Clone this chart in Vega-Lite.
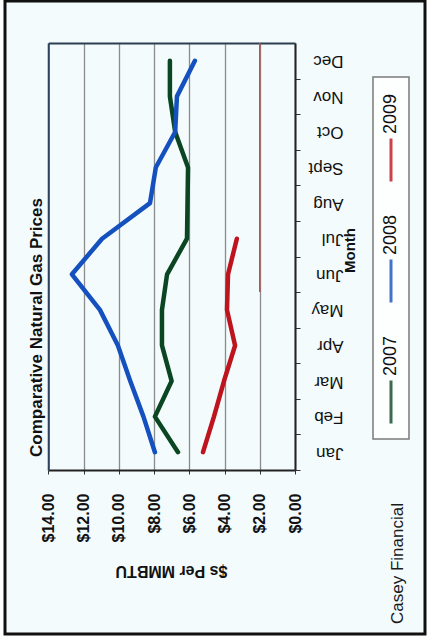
{
  "$schema": "https://vega.github.io/schema/vega-lite/v6.json",
  "autosize": {"type": "none"},
  "padding": {"left": 5, "top": 1, "right": 2, "bottom": 4},
  "width": 420,
  "height": 633,
  "background": "#ffffff",
  "view": {"fill": "#f3fbfd", "stroke": "#111111", "strokeWidth": 3},
  "config": {"font": "Liberation Sans"},
  "title": {
    "text": "Comparative Natural Gas Prices",
    "orient": "left",
    "anchor": "middle",
    "frame": "group",
    "angle": 270,
    "baseline": "middle",
    "offset": -49,
    "dx": -10,
    "fontSize": 17,
    "fontWeight": "bold",
    "color": "#111111"
  },
  "resolve": {"axis": {"x": "independent", "y": "independent"}},
  "layer": [
    {
      "data": {"values": [{"price": 2, "from": "Dec", "to": "May"}]},
      "mark": {"type": "rule", "color": "#c0504d", "strokeWidth": 1.5},
      "encoding": {
        "x": {
          "field": "price", "type": "quantitative",
          "scale": {"domain": [0, 14], "range": [290, 43.3], "nice": false, "zero": false},
          "axis": {"orient": "top", "offset": -42, "values": [0,2,4,6,8,10,12,14], "domain": true, "domainColor": "#2d3e50", "domainWidth": 2, "ticks": false, "labels": false,
            "grid": true, "gridColor": "#8c8c8c", "gridWidth": 1.3, "title": null}
        },
        "y": {
          "field": "from", "type": "ordinal", "bandPosition": 0,
          "scale": {"type": "band", "domain": ["Jan","Feb","Mar","Apr","May","Jun","Jul","Aug","Sept","Oct","Nov","Dec"], "range": [469, 42], "paddingInner": 0, "paddingOuter": 0},
          "axis": {"orient": "left", "offset": -43.3, "domain": true, "domainColor": "#2d4060", "domainWidth": 2, "ticks": false, "labels": false, "grid": false,
            "title": "Casey Financial", "titleX": 348.7, "titleY": 562, "titleAngle": 270, "titleAlign": "center", "titleBaseline": "middle", "titleFontSize": 17, "titleFontWeight": "normal", "titleColor": "#1a1a1a"}
        },
        "y2": {"field": "to", "bandPosition": 0}
      }
    },
    {
      "data": {"values": [
        {"year": "2007", "month": "Jan", "i": 1, "price": 6.64},
        {"year": "2007", "month": "Feb", "i": 2, "price": 7.95},
        {"year": "2007", "month": "Mar", "i": 3, "price": 7.0},
        {"year": "2007", "month": "Apr", "i": 4, "price": 7.55},
        {"year": "2007", "month": "May", "i": 5, "price": 7.55},
        {"year": "2007", "month": "Jun", "i": 6, "price": 7.26},
        {"year": "2007", "month": "Jul", "i": 7, "price": 6.13},
        {"year": "2007", "month": "Aug", "i": 8, "price": 6.1},
        {"year": "2007", "month": "Sept", "i": 9, "price": 6.07},
        {"year": "2007", "month": "Oct", "i": 10, "price": 6.8},
        {"year": "2007", "month": "Nov", "i": 11, "price": 7.1},
        {"year": "2007", "month": "Dec", "i": 12, "price": 7.1},
        {"year": "2008", "month": "Jan", "i": 1, "price": 7.95},
        {"year": "2008", "month": "Feb", "i": 2, "price": 8.6},
        {"year": "2008", "month": "Mar", "i": 3, "price": 9.35},
        {"year": "2008", "month": "Apr", "i": 4, "price": 10.05},
        {"year": "2008", "month": "May", "i": 5, "price": 11.07},
        {"year": "2008", "month": "Jun", "i": 6, "price": 12.66},
        {"year": "2008", "month": "Jul", "i": 7, "price": 10.95},
        {"year": "2008", "month": "Aug", "i": 8, "price": 8.23},
        {"year": "2008", "month": "Sept", "i": 9, "price": 7.9},
        {"year": "2008", "month": "Oct", "i": 10, "price": 6.8},
        {"year": "2008", "month": "Nov", "i": 11, "price": 6.7},
        {"year": "2008", "month": "Dec", "i": 12, "price": 5.68},
        {"year": "2009", "month": "Jan", "i": 1, "price": 5.22},
        {"year": "2009", "month": "Feb", "i": 2, "price": 4.6},
        {"year": "2009", "month": "Mar", "i": 3, "price": 4.03},
        {"year": "2009", "month": "Apr", "i": 4, "price": 3.4},
        {"year": "2009", "month": "May", "i": 5, "price": 3.86},
        {"year": "2009", "month": "Jun", "i": 6, "price": 3.8},
        {"year": "2009", "month": "Jul", "i": 7, "price": 3.3}
      ]},
      "mark": {"type": "line", "strokeWidth": 4.5, "strokeCap": "round", "strokeJoin": "round"},
      "encoding": {
        "x": {
          "field": "price", "type": "quantitative",
          "scale": {"domain": [0, 14], "range": [290, 43.3], "nice": false, "zero": false},
          "axis": {"orient": "bottom", "offset": -164, "values": [0,2,4,6,8,10,12,14], "format": "$.2f",
            "labelAngle": 270, "labelAlign": "right", "labelBaseline": "middle", "labelPadding": 19, "labelFontSize": 16, "labelFontWeight": "bold", "labelColor": "#111111", "labelFlush": false, "labelOverlap": false,
            "tickSize": 4, "tickColor": "#333333", "domainColor": "#222222", "domainWidth": 2,
            "grid": false,
            "title": "$s Per MMBTU", "titleX": 166, "titleY": 100, "titleAngle": 180, "titleAlign": "center", "titleBaseline": "middle", "titleFontSize": 16, "titleFontWeight": "bold", "titleColor": "#111111"}
        },
        "y": {
          "field": "month", "type": "ordinal",
          "scale": {"type": "band", "domain": ["Jan","Feb","Mar","Apr","May","Jun","Jul","Aug","Sept","Oct","Nov","Dec"], "range": [469, 42], "paddingInner": 0, "paddingOuter": 0},
          "axis": {"orient": "right", "offset": -130, "tickBand": "extent", "tickSize": 5, "tickColor": "#333333",
            "labelAngle": 180, "labelAlign": "left", "labelBaseline": "middle", "labelPadding": 43, "labelFontSize": 17, "labelColor": "#111111",
            "domainColor": "#222222", "domainWidth": 2, "grid": false,
            "title": "Month", "titleX": 54, "titleY": 249, "titleAngle": 270, "titleAlign": "center", "titleBaseline": "middle", "titleFontSize": 15, "titleFontWeight": "bold", "titleColor": "#111111"}
        },
        "color": {
          "field": "year", "type": "nominal",
          "scale": {"domain": ["2009", "2008", "2007"], "range": ["#be141e", "#1450be", "#0b4623"]},
          "legend": {
            "orient": "none", "legendX": 368, "legendY": 76, "direction": "vertical",
            "title": " ", "titleFontSize": 2, "titlePadding": 6,
            "symbolType": "M0,-1L0,1", "symbolSize": 1849, "symbolStrokeWidth": 3, "symbolOpacity": 0.8,
            "labelFontSize": 18, "labelColor": "#111111",
            "padding": 9, "rowPadding": 26,
            "fillColor": "#fdfefe", "strokeColor": "#7a7a7a",
            "encoding": {
              "symbols": {"x": {"value": 9}, "y": {"value": 66}},
              "labels": {"x": {"value": 9}, "y": {"value": 40}, "angle": {"value": 270}, "align": {"value": "left"}, "baseline": {"value": "middle"}},
              "legend": {"strokeWidth": {"value": 1.5}}
            }
          }
        },
        "order": {"field": "i", "type": "quantitative"}
      }
    }
  ]
}
